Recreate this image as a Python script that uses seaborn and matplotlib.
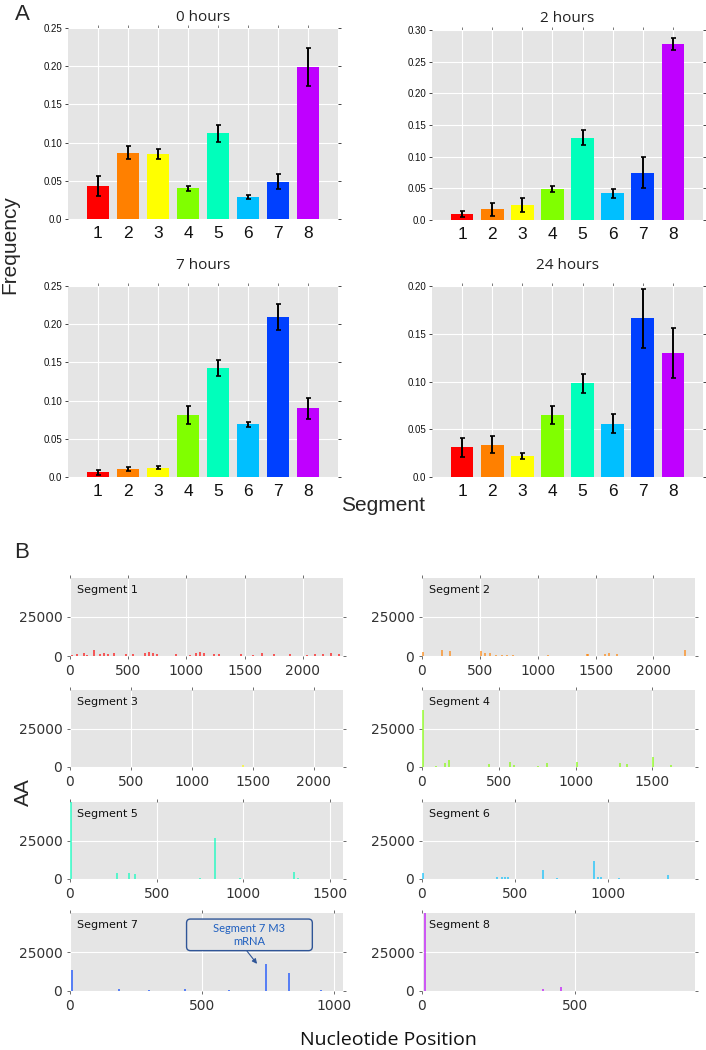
import matplotlib
matplotlib.use("Agg")
import matplotlib.pyplot as plt
import seaborn as sns

sns.set_theme(style="darkgrid", rc={
    "axes.facecolor": "#E5E5E5",
    "grid.color": "white",
    "grid.linewidth": 0.8,
})
plt.rcParams["font.family"] = ["DejaVu Sans"]

# ---- panel A data: mean frequency and error per segment ----
SEGMENTS = ["1", "2", "3", "4", "5", "6", "7", "8"]
SEG_COLORS = ["#FF0000", "#FF8000", "#FFFF00", "#80FF00",
              "#00FFBB", "#00BFFF", "#0040FF", "#BF00FF"]

FREQ_0H = [0.043, 0.087, 0.085, 0.040, 0.112, 0.029, 0.049, 0.199]
ERR_0H = [0.013, 0.009, 0.0065, 0.003, 0.011, 0.003, 0.0095, 0.025]
FREQ_2H = [0.009, 0.017, 0.023, 0.049, 0.130, 0.042, 0.075, 0.278]
ERR_2H = [0.005, 0.010, 0.011, 0.005, 0.012, 0.007, 0.024, 0.010]
FREQ_7H = [0.006, 0.0105, 0.012, 0.081, 0.143, 0.069, 0.210, 0.090]
ERR_7H = [0.003, 0.0025, 0.002, 0.0115, 0.0105, 0.0035, 0.017, 0.0137]
FREQ_24H = [0.031, 0.034, 0.022, 0.065, 0.098, 0.056, 0.166, 0.130]
ERR_24H = [0.0098, 0.0086, 0.0033, 0.0096, 0.0103, 0.010, 0.0304, 0.0264]

# ---- panel B data: read depth spikes along each segment ----
SEG1_POS = [21, 63, 116, 150, 204, 257, 292, 330, 380, 485, 538, 643, 678, 714, 749, 907,
            1030, 1083, 1118, 1153, 1241, 1276, 1469, 1575, 1645, 1750, 1891, 2032, 2102,
            2172, 2243, 2313]
SEG1_VAL = [800, 1500, 2200, 900, 3700, 1600, 2000, 1000, 1800, 1200, 1400, 1700, 2400, 2000,
            1500, 1100, 900, 1800, 2600, 1700, 1000, 1200, 1500, 900, 1800, 1100, 1300, 900,
            1600, 1400, 2000, 1500]
SEG2_POS = [5, 176, 246, 509, 543, 587, 644, 688, 731, 789, 1092, 1425, 1439, 1584, 1613,
            1685, 2277]
SEG2_VAL = [2800, 3850, 3200, 3400, 2000, 1800, 900, 800, 700, 800, 500, 1500, 1300, 1200,
            1800, 1000, 3850]
SEG3_POS = [10, 250, 1421, 1900]
SEG3_VAL = [300, 300, 1100, 300]
SEG4_POS = [4, 89, 148, 176, 437, 572, 598, 757, 811, 1007, 1289, 1337, 1502, 1620]
SEG4_VAL = [37200, 600, 2560, 4700, 2100, 3000, 1000, 800, 2500, 3200, 2500, 2000, 6400, 1500]
SEG5_POS = [6, 269, 342, 375, 750, 837, 980, 1294, 1317]
SEG5_VAL = [52000, 3600, 3600, 3150, 500, 26300, 400, 4400, 800]
SEG6_POS = [5, 400, 427, 444, 462, 647, 722, 925, 946, 959, 1059, 1319]
SEG6_VAL = [3600, 1000, 1500, 1200, 1000, 5700, 500, 12000, 1500, 1000, 600, 2500]
SEG7_POS = [9, 186, 300, 437, 600, 743, 829, 950]
SEG7_VAL = [13650, 1000, 500, 1000, 500, 17200, 11550, 500]
SEG8_POS = [11, 395, 452]
SEG8_VAL = [51000, 1500, 2500]

SEG_POS = [SEG1_POS, SEG2_POS, SEG3_POS, SEG4_POS, SEG5_POS, SEG6_POS, SEG7_POS, SEG8_POS]
SEG_VAL = [SEG1_VAL, SEG2_VAL, SEG3_VAL, SEG4_VAL, SEG5_VAL, SEG6_VAL, SEG7_VAL, SEG8_VAL]
SEG_LEN = [2345, 2360, 2240, 1778, 1575, 1465, 1033, 890]

W, H = 706, 1050
fig = plt.figure(figsize=(W / 100, H / 100), dpi=100)


def px_axes(left, right, top, bottom):
    return fig.add_axes([left / W, 1 - bottom / H, (right - left) / W, (bottom - top) / H])


def bar_panel(ax, title, vals, errs, ymax, pad):
    sns.barplot(x=SEGMENTS, y=vals, hue=SEGMENTS, palette=SEG_COLORS, legend=False,
                width=0.75, linewidth=0, saturation=1, errorbar=None, ax=ax)
    ax.errorbar(x=range(8), y=vals, yerr=errs, fmt="none", ecolor="black",
                elinewidth=1.4, capsize=1.8, capthick=1.2)
    ax.set_xlim(-1, 8)
    ax.set_ylim(0, ymax)
    ticks = [round(0.05 * i, 2) for i in range(int(round(ymax / 0.05)) + 1)]
    ax.set_yticks(ticks)
    ax.set_yticklabels(["0.0"] + [f"{t:.2f}" for t in ticks[1:]],
                       fontsize=7, family="Liberation Sans", color="#111111")
    ax.set_xticks(range(8))
    ax.set_xticklabels(SEGMENTS, fontsize=12.5, family="Liberation Sans", color="#111111")
    ax.xaxis.grid(True)
    ax.yaxis.grid(True)
    ax.set_xlabel("")
    ax.set_ylabel("")
    ax.tick_params(axis="y", left=True, right=True, direction="out", length=2.5,
                   width=0.7, color="#444444", pad=1.5)
    ax.tick_params(axis="x", bottom=False, top=True, direction="out", length=2,
                   width=0.6, color="#666666", pad=3)
    for s in ax.spines.values():
        s.set_visible(False)
    ax.set_title(title, fontsize=11, family="Open Sans", color="#222222", pad=pad)


ax0 = px_axes(68, 338, 28, 219)
bar_panel(ax0, "0 hours", FREQ_0H, ERR_0H, 0.25, 5)
ax2 = px_axes(432, 703, 30, 220)
bar_panel(ax2, "2 hours", FREQ_2H, ERR_2H, 0.30, 6)
ax7 = px_axes(68, 338, 286, 477)
bar_panel(ax7, "7 hours", FREQ_7H, ERR_7H, 0.25, 12)
ax24 = px_axes(432, 703, 286, 477)
bar_panel(ax24, "24 hours", FREQ_24H, ERR_24H, 0.20, 12)

# ---- panel B ----
rows = [(578, 656), (690, 767), (802, 879), (913, 991)]
cols = [(70, 343), (422, 695)]
b_axes = []
for i in range(8):
    top, bottom = rows[i // 2]
    left, right = cols[i % 2]
    ax = px_axes(left, right, top, bottom)
    ax.vlines(SEG_POS[i], 0, SEG_VAL[i], colors=SEG_COLORS[i], linewidth=1.1, alpha=0.8)
    ax.set_xlim(0, SEG_LEN[i])
    ax.set_ylim(0, 50000)
    ax.set_yticks([0, 25000])
    ax.set_xticks(list(range(0, SEG_LEN[i] + 1, 500)))
    ax.tick_params(labelsize=10, colors="#333333")
    ax.tick_params(axis="both", direction="out", length=2.5, width=0.6, color="#555555",
                   top=True, right=True, bottom=True, left=True, pad=3)
    for s in ax.spines.values():
        s.set_visible(False)
    ax.text(0.025, 0.85, f"Segment {i + 1}", transform=ax.transAxes, fontsize=8,
            va="center", ha="left", color="#111111")
    b_axes.append(ax)

b_axes[6].annotate("        Segment 7 M3        \nmRNA", xy=(711, 16700), xytext=(679, 36000),
                   ha="center", va="center", multialignment="center",
                   fontsize=8, family="Lato", color="#1F5FBF",
                   bbox=dict(boxstyle="round,pad=0.35", fc="#E5E5E5", ec="#2F5597", lw=1),
                   arrowprops=dict(arrowstyle="-|>", color="#2F5597", lw=0.8,
                                   mutation_scale=7, relpos=(0.45, 0.0), shrinkA=0, shrinkB=1))

# ---- figure labels ----
fig.text(22 / W, 1 - 14 / H, "A", fontsize=16, family="Liberation Sans", va="center", ha="center")
fig.text(22 / W, 1 - 552 / H, "B", fontsize=16, family="Liberation Sans", va="center", ha="center")
fig.text(10 / W, 1 - 245 / H, "Frequency", fontsize=15, family="Liberation Sans",
         rotation=90, va="center", ha="center")
fig.text(383 / W, 1 - 506 / H, "Segment", fontsize=15, family="Liberation Sans",
         va="center", ha="center")
fig.text(23 / W, 1 - 792 / H, "AA", fontsize=15, family="Liberation Sans",
         rotation=90, va="center", ha="center")
fig.text(388 / W, 1 - 1040 / H, "Nucleotide Position", fontsize=14, family="Open Sans",
         va="center", ha="center", color="#111111")

fig.savefig("out.png", dpi=100)
